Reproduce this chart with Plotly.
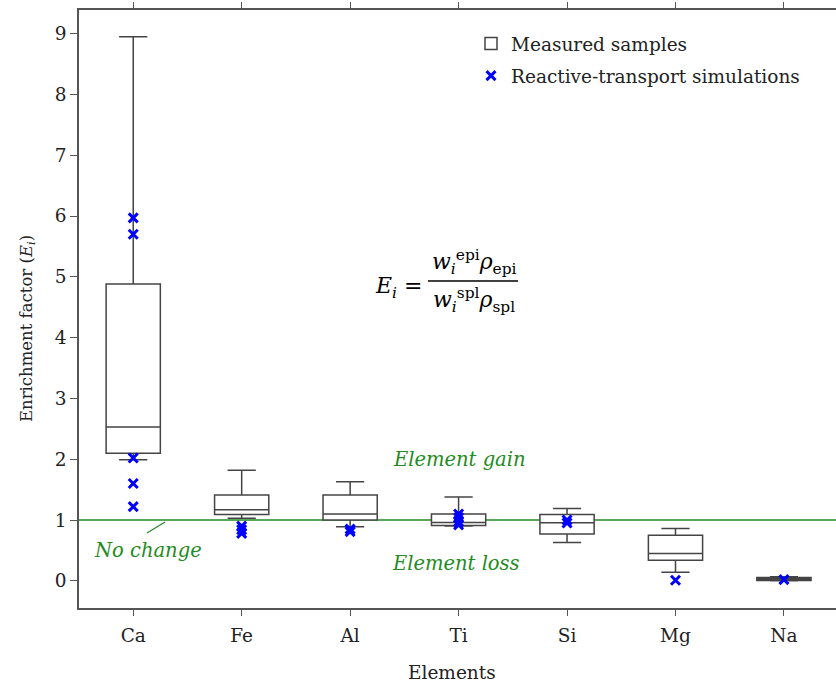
import plotly.graph_objects as go

elements = ["Ca", "Fe", "Al", "Ti", "Si", "Mg", "Na"]
q1 = [2.10, 1.09, 1.00, 0.91, 0.77, 0.34, 0.005]
median = [2.53, 1.17, 1.10, 0.96, 0.955, 0.45, 0.03]
q3 = [4.88, 1.41, 1.41, 1.10, 1.09, 0.75, 0.055]
lowerfence = [1.99, 1.03, 0.89, 0.90, 0.63, 0.14, 0.0]
upperfence = [8.95, 1.82, 1.63, 1.38, 1.19, 0.86, 0.065]

sim_elements = ["Ca", "Ca", "Ca", "Ca", "Ca",
                "Fe", "Fe", "Fe",
                "Al", "Al",
                "Ti", "Ti", "Ti", "Ti",
                "Si", "Si",
                "Mg", "Na"]
sim_values = [5.97, 5.70, 2.02, 1.60, 1.22,
              0.90, 0.84, 0.78,
              0.85, 0.81,
              1.10, 1.04, 0.97, 0.92,
              1.00, 0.95,
              0.01, 0.02]

y_ticks = [0, 1, 2, 3, 4, 5, 6, 7, 8, 9]

W, H = 836, 686
ML, MR, MT, MB = 79, 0, 10, 686 - 608
PW, PH = W - ML - MR, H - MT - MB


def px(x):
    return (x - ML) / PW


def py(y):
    return 1 - (y - MT) / PH


FONT = "DejaVu Serif"
FS = 18.5
GREEN = "#228B22"
BOXC = "#444444"

fig = go.Figure()
fig.add_trace(go.Box(
    x=elements, q1=q1, median=median, q3=q3,
    lowerfence=lowerfence, upperfence=upperfence,
    name="Measured samples", fillcolor="white",
    line=dict(color=BOXC, width=1.5), width=0.5, whiskerwidth=0.52,
    boxpoints=False, showlegend=True, legendgroup="a",
))
fig.add_trace(go.Scatter(
    x=sim_elements, y=sim_values, mode="markers",
    name="Reactive-transport simulations", legendgroup="b",
    marker=dict(symbol="x-thin", size=9, color="blue",
                line=dict(color="blue", width=3)),
))

fig.add_shape(type="line", xref="paper", yref="y", x0=0, x1=1, y0=1, y1=1,
              line=dict(color=GREEN, width=1.6), layer="below")
# pointer for "No change"
fig.add_shape(type="line", xref="paper", yref="paper",
              x0=px(147), y0=py(533), x1=px(165), y1=py(522),
              line=dict(color=GREEN, width=1.2))


def note(text, x, y, font, **kw):
    fig.add_annotation(text=text, xref="paper", yref="paper", x=px(x), y=py(y),
                       showarrow=False, font=font,
                       xanchor=kw.pop("xanchor", "center"),
                       yanchor=kw.pop("yanchor", "middle"), **kw)


tf = dict(family=FONT, size=19.5, color=GREEN)
note("<i>Element gain</i>", 459, 459, tf)
note("<i>Element loss</i>", 456, 563, tf)
note("<i>No change</i>", 148, 550, tf)

# formula
ff = dict(family=FONT, size=22, color="black")
note("<i>E</i><sub><i>i</i></sub> =", 424, 287, ff, xanchor="right")
note("<i>w</i><sub><i>i</i></sub><sup>epi</sup><i>ρ</i><sub>epi</sub>", 474, 262, ff)
note("<i>w</i><sub><i>i</i></sub><sup>spl</sup><i>ρ</i><sub>spl</sub>", 474, 300, ff)
fig.add_shape(type="line", xref="paper", yref="paper",
              x0=px(428), x1=px(518), y0=py(281), y1=py(281),
              line=dict(color="black", width=1.3))

# axis titles
af = dict(family=FONT, size=FS, color="#222")
note("Enrichment factor (<i>E</i><sub><i>i</i></sub>)", 27, 329,
     dict(family=FONT, size=16.5, color="#222"), textangle=-90)
note("Elements", 452, 672, af)

fig.update_layout(
    width=W, height=H,
    margin=dict(l=ML, r=MR, t=MT, b=MB),
    plot_bgcolor="white", paper_bgcolor="white",
    font=dict(family=FONT, size=FS, color="#222"),
    showlegend=True,
    legend=dict(x=px(471), y=py(25), xanchor="left", yanchor="top",
                bgcolor="rgba(0,0,0,0)", font=dict(family=FONT, size=FS, color="#222"),
                itemwidth=30, traceorder="grouped", tracegroupgap=5),
    xaxis=dict(type="category", categoryorder="array", categoryarray=elements,
               range=[-0.5, 6.48], showline=True, linecolor="#555", linewidth=1.5,
               mirror="ticks", ticks="outside", ticklen=6, tickcolor="#555",
               ticklabelstandoff=4,
               showgrid=False, zeroline=False),
    yaxis=dict(range=[-0.447, 9.388], tickvals=y_ticks, showline=True,
               linecolor="#555", linewidth=1.5, mirror=False,
               ticks="outside", ticklen=7, tickcolor="#555",
               showgrid=False, zeroline=False),
)

fig.write_html(
    "out.html",
    config={"displayModeBar": False},
    post_script="document.body.style.margin='0';document.body.style.overflow='hidden';",
)
